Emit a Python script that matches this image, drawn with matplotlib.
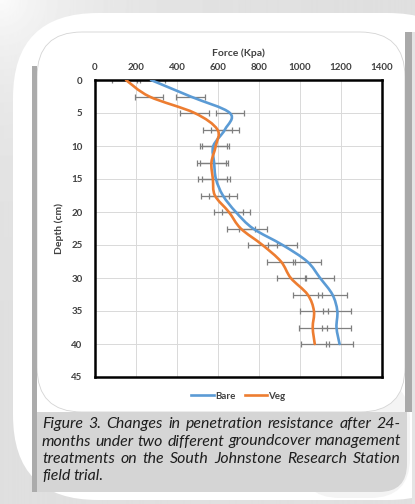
import matplotlib.pyplot as plt
import numpy as np
from matplotlib.lines import Line2D
from matplotlib.patches import FancyBboxPatch, PathPatch, Rectangle
from matplotlib.path import Path

# values (kPa at each depth, cm)
DEPTH = [0, 2.5, 5, 7.5, 10, 12.5, 15, 17.5, 20, 22.5, 25, 27.5, 30, 32.5, 35, 37.5, 40]
BARE = [273, 466, 658, 634, 577, 581, 590, 624, 687, 771, 915, 1035, 1098, 1158, 1182, 1178, 1193]
VEG = [151, 265, 486, 597, 589, 568, 575, 585, 653, 711, 817, 907, 955, 1037, 1068, 1062, 1072]
BARE_ERR = [67, 71, 69, 70, 66, 69, 69, 67, 69, 67, 69, 67, 67, 69, 69, 69, 67]
VEG_ERR = [67, 69, 69, 69, 65, 71, 71, 69, 71, 69, 69, 68, 69, 71, 69, 68, 69]
X_TICKS = [0, 200, 400, 600, 800, 1000, 1200, 1400]
Y_TICKS = [0, 5, 10, 15, 20, 25, 30, 35, 40, 45]
SERIES = ["Bare", "Veg"]
CAPTION = [
    "Figure 3. Changes in penetration resistance after 24-",
    "months under two different groundcover management",
    "treatments on the South Johnstone Research Station",
    "field trial.",
]

BLUE = "#5B9BD5"
ORANGE = "#ED7D31"
TEXT = "#404040"
W, H = 415, 504


def smooth_path(xs, ys):
    """Excel-style smoothed line as cubic Bezier segments through the points."""
    pts = np.column_stack([xs, ys]).astype(float)
    n = len(pts)
    verts = [pts[0]]
    codes = [Path.MOVETO]
    for i in range(n - 1):
        p_prev = pts[max(i - 1, 0)]
        p_next2 = pts[min(i + 2, n - 1)]
        c1 = pts[i] + (pts[i + 1] - p_prev) / 6
        c2 = pts[i + 1] - (p_next2 - pts[i]) / 6
        verts += [c1, c2, pts[i + 1]]
        codes += [Path.CURVE4] * 3
    return Path(verts, codes)


def justified(ax, lines, x0, x1, y0, dy, **kw):
    """Fully justified caption; font size picked so the longest line fits with normal spacing."""
    r = ax.figure.canvas.get_renderer()
    probe = ax.text(0, 0, max(lines, key=len), **kw)
    size = kw.pop("fontsize")
    scale = (x1 - x0) / probe.get_window_extent(r).width
    probe.remove()
    size = size * scale * 0.97
    for i, line in enumerate(lines):
        words = line.split()
        y = y0 + i * dy
        texts = [ax.text(0, y, w, ha="left", va="baseline", fontsize=size, **kw) for w in words]
        widths = [t.get_window_extent(r).width for t in texts]
        if i == len(lines) - 1 or len(words) == 1:
            gap = 0.3 * size
        else:
            gap = (x1 - x0 - sum(widths)) / (len(words) - 1)
        x = x0
        for t, w in zip(texts, widths):
            t.set_x(x)
            x += w + gap


fig = plt.figure(figsize=(W / 100, H / 100), dpi=100)
plt.rcParams["font.family"] = ["Lato", "DejaVu Sans"]

# decorative page background in pixel coordinates
bg = fig.add_axes([0, 0, 1, 1], zorder=-10)
bg.set_xlim(0, W)
bg.set_ylim(H, 0)
bg.axis("off")
yy, xx = np.mgrid[0:H, 0:W]
shade = 0.875 + 0.11 * np.exp(-np.hypot(xx, yy) / 90)
bg.imshow(shade, cmap="gray", vmin=0, vmax=1, extent=(0, W, H, 0), aspect="auto", zorder=0)
bg.add_patch(FancyBboxPatch((13, 13), 460, 487, boxstyle="round,pad=0,rounding_size=85",
                            facecolor="white", edgecolor="none", zorder=1))
bg.add_patch(FancyBboxPatch((300, 380), 110, 118, boxstyle="round,pad=0,rounding_size=40",
                            facecolor="#f4f4f4", edgecolor="none", zorder=1.5))
bg.add_patch(Rectangle((412, 32), 10, 480, facecolor="#e4e4e4", edgecolor="none", zorder=1.6))
bg.add_patch(FancyBboxPatch((37, 32), 368, 380, boxstyle="round,pad=0,rounding_size=45",
                            facecolor="white", edgecolor="#d4d4d4", linewidth=0.6, zorder=2))
bg.add_patch(Rectangle((32, 66), 5, 426, facecolor="#ababab", edgecolor="none", zorder=2))
bg.add_patch(Rectangle((405, 32), 7, 380, facecolor="#a9a9a9", edgecolor="none", zorder=2))
bg.add_patch(FancyBboxPatch((37, 412), 370, 80, boxstyle="round,pad=0,rounding_size=28",
                            facecolor="#d5d5d5", edgecolor="none", zorder=2))
bg.add_patch(Rectangle((37, 412), 200, 80, facecolor="#d5d5d5", edgecolor="none", zorder=2))
bg.add_patch(Rectangle((37, 412), 370, 30, facecolor="#d5d5d5", edgecolor="none", zorder=2))
justified(bg, CAPTION, 42, 401, 428, 17.5, fontsize=10, family=["Lato", "DejaVu Sans"],
          style="italic", color="#1e1e1e", zorder=3)

# chart
ax = fig.add_axes([95 / W, 127 / H, 287 / W, 297 / H])
ax.set_facecolor("white")
ax.set_xlim(0, 1400)
ax.set_ylim(45, 0)
ax.set_xticks(X_TICKS)
ax.set_yticks(Y_TICKS)
ax.xaxis.tick_top()
ax.xaxis.set_label_position("top")
ax.tick_params(length=0, labelsize=7, labelcolor=TEXT)
ax.tick_params(axis="x", pad=6)
ax.tick_params(axis="y", pad=9)
for lab in ax.get_xticklabels() + ax.get_yticklabels():
    lab.set_fontweight("bold")
ax.grid(color="#d9d9d9", linewidth=0.7)
ax.set_axisbelow(True)
for s in ax.spines.values():
    s.set_color("black")
    s.set_linewidth(1.8)
ax.set_xlabel("Force (Kpa)", fontsize=7.5, fontweight="bold", color=TEXT, labelpad=5)
ax.set_ylabel("Depth (cm)", fontsize=7.5, fontweight="bold", color=TEXT, labelpad=5)

for vals, err in ((BARE, BARE_ERR), (VEG, VEG_ERR)):
    ax.errorbar(vals, DEPTH, xerr=err, fmt="none", ecolor="#7f7f7f", elinewidth=0.9,
                capsize=2.2, capthick=0.9, zorder=2)
for vals, color in ((BARE, BLUE), (VEG, ORANGE)):
    ax.add_patch(PathPatch(smooth_path(vals, DEPTH), facecolor="none", edgecolor=color,
                           linewidth=1.9, capstyle="round", zorder=3))

handles = [Line2D([], [], color=BLUE, linewidth=1.9), Line2D([], [], color=ORANGE, linewidth=1.9)]
leg = ax.legend(handles, SERIES, loc="center", bbox_to_anchor=(0.5, -0.064), ncol=2, frameon=False,
                handlelength=2.3, handletextpad=0.1, columnspacing=1.0,
                prop={"size": 7, "weight": "bold"})
for t in leg.get_texts():
    t.set_color(TEXT)

fig.savefig("out.png", dpi=100)
